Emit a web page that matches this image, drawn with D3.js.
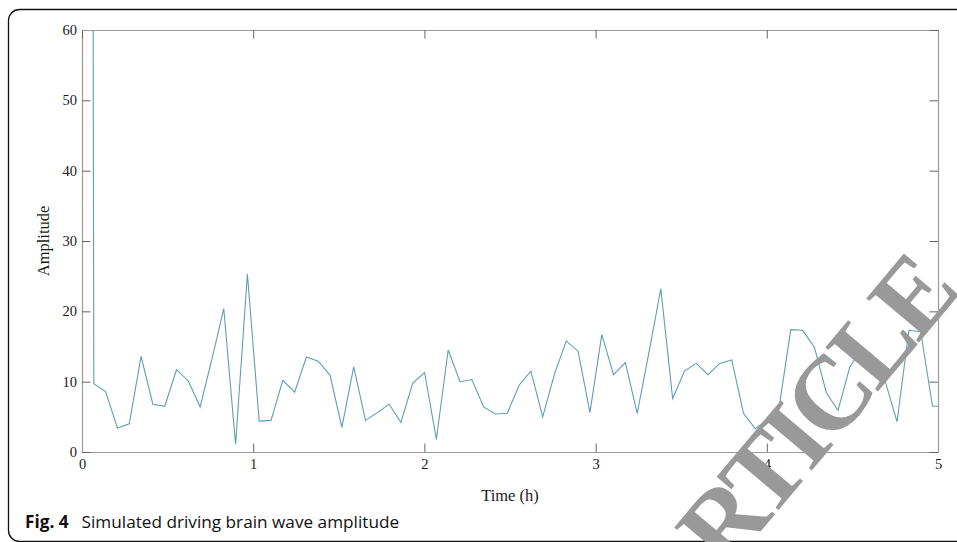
<!DOCTYPE html>
<html>
<head>
<meta charset="utf-8">
<script src="https://cdn.jsdelivr.net/npm/d3@7"></script>
<style>
  body { margin: 0; background: #fff; }
  svg { display: block; }
</style>
</head>
<body>
<div id="chart"></div>
<script>
// values, one sample every 0.069 h (first sample is far above the axis)
var amplitude = [900, 9.7, 8.6, 3.4, 4.0, 13.6, 6.8, 6.5, 11.7, 10.1,
  6.4, 13.2, 20.4, 1.1, 25.3, 4.4, 4.5, 10.2, 8.5, 13.5,
  12.9, 10.9, 3.5, 12.1, 4.5, 5.6, 6.8, 4.2, 9.8, 11.3,
  1.8, 14.5, 10.0, 10.3, 6.4, 5.4, 5.5, 9.5, 11.5, 5.0,
  11.1, 15.8, 14.3, 5.6, 16.7, 11.0, 12.7, 5.5, 14.2, 23.2,
  7.6, 11.5, 12.6, 11.0, 12.6, 13.1, 5.5, 3.3, 4.6, 6.2,
  17.4, 17.3, 14.9, 8.5, 5.9, 12.1, 14.7, 11.9, 10.0, 4.3,
  17.3, 17.1, 6.5, 6.5];
var sampleStep = 0.069;

var xTicks = [0, 1, 2, 3, 4, 5];
var yTicks = [0, 10, 20, 30, 40, 50, 60];
var xLabel = "Time (h)";
var yLabel = "Amplitude";
var captionBold = "Fig. 4";
var captionText = "Simulated driving brain wave amplitude";
var watermark = "RETRACTED ARTICLE";

var W = 957, H = 542;
var margin = {top: 30, right: 19, bottom: 90, left: 82},
    width = W - margin.left - margin.right,
    height = H - margin.top - margin.bottom;

var data = amplitude.map(function(v, i){ return {t: i * sampleStep, v: v}; });

var svg = d3.select("#chart").append("svg")
    .attr("width", W)
    .attr("height", H);

// outer frame of the figure panel
svg.append("rect")
  .attr("x", 8.5).attr("y", 9.5)
  .attr("width", 1000).attr("height", 532)
  .attr("rx", 11).attr("ry", 11)
  .attr("fill", "none")
  .attr("stroke", "#111")
  .attr("stroke-width", 1.3);

var g = svg.append("g")
    .attr("transform", "translate(" + margin.left + "," + margin.top + ")");

var x = d3.scaleLinear().domain([0, 5]).range([0, width]);
var y = d3.scaleLinear().domain([0, 60]).range([height, 0]);

g.append("clipPath").attr("id", "plot-clip")
  .append("rect").attr("width", width).attr("height", height);

// line
var line = d3.line()
    .x(function(d){ return x(d.t); })
    .y(function(d){ return y(d.v); });

g.append("path")
  .datum(data)
  .attr("clip-path", "url(#plot-clip)")
  .attr("fill", "none")
  .attr("stroke", "#5d9fb6")
  .attr("stroke-width", 1.1)
  .attr("d", line);

// axes (ticks point inward, box on all sides)
var tick = 8.5;
function styleAxis(sel){
  sel.select(".domain").attr("stroke", "#9a9a9a").attr("stroke-width", 1.2);
  sel.selectAll(".tick line").attr("stroke", "#666");
  sel.selectAll(".tick text")
    .attr("fill", "#1a1a1a")
    .style("font-family", "'Liberation Serif', 'Times New Roman', serif")
    .style("font-size", "14.5px");
}

g.append("g")
  .attr("transform", "translate(0," + height + ")")
  .call(d3.axisBottom(x).tickValues(xTicks).tickSizeInner(-tick).tickSizeOuter(0).tickPadding(7).tickFormat(d3.format("d")))
  .call(styleAxis);

g.append("g")
  .call(d3.axisLeft(y).tickValues(yTicks).tickSizeInner(-tick).tickSizeOuter(0).tickPadding(5).tickFormat(d3.format("d")))
  .call(styleAxis);

g.append("g")
  .call(d3.axisTop(x).tickValues(xTicks).tickSizeInner(-tick).tickSizeOuter(0).tickFormat(""))
  .call(styleAxis);

g.append("g")
  .attr("transform", "translate(" + width + ",0)")
  .call(d3.axisRight(y).tickValues(yTicks).tickSizeInner(-tick).tickSizeOuter(0).tickFormat(""))
  .call(styleAxis);

// axis titles
g.append("text")
  .attr("x", width / 2)
  .attr("y", height + 49)
  .attr("text-anchor", "middle")
  .attr("fill", "#1a1a1a")
  .style("font-family", "'Liberation Serif', 'Times New Roman', serif")
  .style("font-size", "16.5px")
  .text(xLabel);

g.append("text")
  .attr("transform", "translate(-33," + (height / 2) + ") rotate(-90)")
  .attr("text-anchor", "middle")
  .attr("fill", "#1a1a1a")
  .style("font-family", "'Liberation Serif', 'Times New Roman', serif")
  .style("font-size", "16.5px")
  .text(yLabel);

// caption
var cap = svg.append("text")
  .attr("x", 25)
  .attr("y", 528)
  .attr("fill", "#111")
  .style("font-family", "'Open Sans', 'Noto Sans', sans-serif")
  .style("font-size", "17.2px");
cap.append("tspan").style("font-weight", "bold").text(captionBold);
cap.append("tspan").attr("dx", 13).text(captionText);

// retraction watermark over the chart
svg.append("text")
  .attr("transform", "translate(959,295) rotate(-50)")
  .attr("text-anchor", "end")
  .attr("fill", "#999")
  .style("font-family", "'Liberation Serif', 'Times New Roman', serif")
  .style("font-weight", "bold")
  .style("font-size", "105px")
  .style("letter-spacing", "-6px")
  .text(watermark);
</script>
</body>
</html>
